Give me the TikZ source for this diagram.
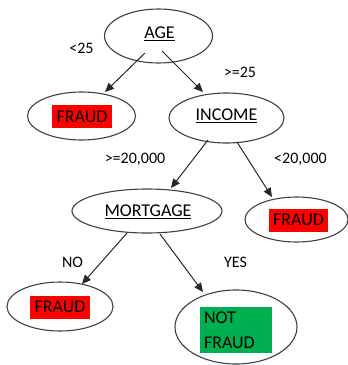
\documentclass[tikz,border=0pt]{standalone}
\usepackage{fontspec}
\setmainfont{Carlito}
\usetikzlibrary{shapes.geometric,arrows.meta,calc}
\definecolor{fraudred}{RGB}{255,0,0}
\definecolor{okgreen}{RGB}{0,176,80}
\definecolor{arrowgray}{RGB}{40,40,40}
\tikzset{
  oval/.style={draw=black!75, line width=1.1pt, ellipse, inner sep=0pt},
  nodetext/.style={font=\fontsize{18}{22}\selectfont, inner sep=0pt},
  redbox/.style={fill=fraudred, font=\fontsize{18}{22}\selectfont, inner xsep=4.5pt, inner ysep=0pt, minimum height=23pt},
  edgelabel/.style={font=\fontsize{16}{19}\selectfont, inner sep=0pt},
  arr/.style={draw=arrowgray, line width=1pt, -{Triangle[length=9pt,width=8pt]}}
}
\begin{document}
\begin{tikzpicture}[x=1pt,y=-1pt]
\useasboundingbox (0,0) rectangle (348,365);
% ellipses
\node[oval, minimum width=108pt, minimum height=54pt] (age) at (158.5,36) {};
\node[oval, minimum width=108pt, minimum height=48pt] (f1) at (81.5,116) {};
\node[oval, minimum width=115pt, minimum height=50pt] (inc) at (226.5,118) {};
\node[oval, minimum width=150pt, minimum height=44pt] (mort) at (147,211) {};
\node[oval, minimum width=103pt, minimum height=45pt] (f2) at (296.5,219.5) {};
\node[oval, minimum width=106pt, minimum height=49pt] (f3) at (60,306.5) {};
\node[oval, minimum width=122pt, minimum height=74pt] (nf) at (236,327) {};
% texts
\node[nodetext] (tage) at (159.5,34) {\underline{AGE}};
\node[nodetext] (tinc) at (226.5,116) {\underline{INCOME}};
\node[nodetext] (tmort) at (148,212) {\underline{MORTGAGE}};
\node[redbox] (tf1) at (82,116.5) {FRAUD};
\node[redbox] (tf2) at (298.5,220) {FRAUD};
\node[redbox] (tf3) at (60,307) {FRAUD};
\node[fill=okgreen, font=\fontsize{18}{25}\selectfont, text width=64pt, inner xsep=4pt, inner ysep=0pt, minimum height=46pt, align=left] (tnf) at (236,330) {NOT\\FRAUD};
% edge labels
\node[edgelabel] (l1) at (81.5,48) {<25};
\node[edgelabel] (l2) at (240,72) {>=25};
\node[edgelabel] (l3) at (135,159) {>=20,000};
\node[edgelabel] (l4) at (300.5,159) {<20,000};
\node[edgelabel] (l5) at (72.5,262) {NO};
\node[edgelabel] (l6) at (235.5,262) {YES};
% arrows
\draw[arr] ($(age.center)+(-13.5,17)$) -- ($(f1.center)+(23.5,-24)$);
\draw[arr] ($(age.center)+(3.5,15)$) -- ($(inc.center)+(-23.5,-26)$);
\draw[arr] ($(inc.center)+(-18.5,22)$) -- ($(mort.center)+(24,-23)$);
\draw[arr] ($(inc.center)+(10.5,24)$) -- ($(f2.center)+(-24.5,-22.5)$);
\draw[arr] ($(mort.center)+(-20,22)$) -- ($(f3.center)+(22,-22.5)$);
\draw[arr] ($(mort.center)+(13,23)$) -- ($(nf.center)+(-33,-35)$);
\end{tikzpicture}
\end{document}
